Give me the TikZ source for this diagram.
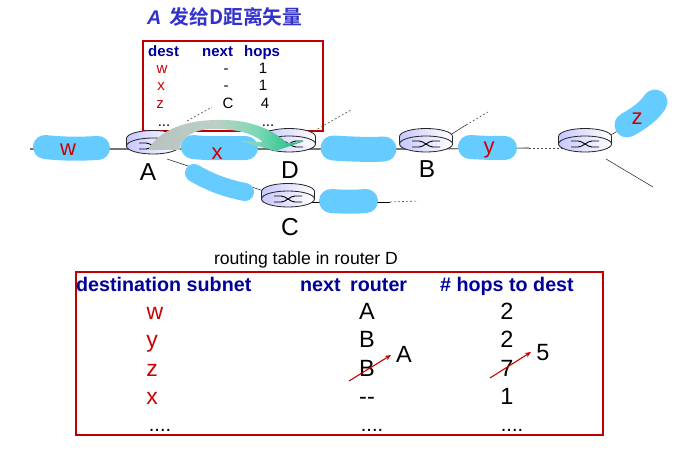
\documentclass[tikz,border=0pt]{standalone}
\usepackage{fontspec}
\setmainfont{Liberation Sans}
\newfontfamily\cjk{Noto Sans CJK SC}[BoldFont={* Bold}]
\usetikzlibrary{arrows.meta}
\definecolor{blobblue}{HTML}{66CCFF}
\definecolor{boxred}{HTML}{C00000}
\definecolor{textred}{HTML}{CC0000}
\definecolor{headblue}{HTML}{000099}
\definecolor{titleblue}{HTML}{3333CC}
\definecolor{shadegray}{HTML}{BAC2BE}
\definecolor{shademid}{HTML}{BBD0C6}
\definecolor{shadelight}{HTML}{7FD8B6}
\definecolor{shadegreen}{HTML}{2CC08C}
\pgfdeclarehorizontalshading{arrowshade}{100bp}{color(0bp)=(shadegray); color(25bp)=(shadegray); color(47bp)=(shademid); color(60bp)=(shadelight); color(72bp)=(shadegreen); color(100bp)=(shadegreen)}
\tikzset{
  routerpic/.pic={
    \path[draw=black!85,line width=.8pt,left color=blue!22,right color=white]
      (-26.5,0) -- (-26.5,7.5) arc[start angle=180,end angle=0,x radius=26.5pt,y radius=8pt] -- (26.5,0) -- cycle;
    \path[draw=black!85,line width=.8pt,left color=blue!22,right color=white]
      (0,0) ellipse[x radius=26.5pt,y radius=8pt];
    \draw[black,line width=.9pt] (-14,3) -- (-7,3) .. controls (-2,3) and (2,-3) .. (7,-3) -- (14,-3);
    \draw[black,line width=.9pt] (-14,-3) -- (-7,-3) .. controls (-2,-3) and (2,3) .. (7,3) -- (14,3);
  },
  blob/.style={draw=blobblue,line cap=round,line join=round,line width=#1},
  link/.style={draw=black!80,line width=.6pt},
  thicklink/.style={draw=black!55,line width=1.1pt},
  dashlink/.style={draw=black!70,line width=.6pt,dash pattern=on 2pt off 2pt},
  redbox/.style={draw=boxred,line width=2pt,inner sep=0pt,rectangle},
  lab/.style={font=\fontsize{24.5}{25}\selectfont,text=black,anchor=base,inner sep=0pt},
  subnet/.style={font=\fontsize{22}{22}\selectfont,text=textred,anchor=base,inner sep=0pt},
  smallhead/.style={font=\fontsize{15}{15}\selectfont\bfseries,text=headblue,anchor=base west,inner sep=0pt},
  smallred/.style={font=\fontsize{15}{15}\selectfont,text=textred,anchor=base,inner sep=0pt},
  smallblk/.style={font=\fontsize{15}{15}\selectfont,text=black,anchor=base,inner sep=0pt},
  bighead/.style={font=\fontsize{19.7}{20}\selectfont\bfseries,text=headblue,anchor=base west,inner sep=0pt},
  bigred/.style={font=\fontsize{23}{23}\selectfont,text=textred,anchor=base,inner sep=0pt},
  bigblk/.style={font=\fontsize{23.5}{24}\selectfont,text=black,anchor=base,inner sep=0pt},
  bigdots/.style={font=\fontsize{20}{20}\selectfont,text=black,anchor=base,inner sep=0pt},
  redarrow/.style={draw=textred,line width=1.1pt,-{Stealth[length=6pt,width=5pt]}},
}
\begin{document}
\begin{tikzpicture}[x=1pt,y=1pt,yscale=-1]
\useasboundingbox (0,0) rectangle (696,465);
% routers' centres
\coordinate (rA) at (153,146);
\coordinate (rD) at (289,144);
\coordinate (rB) at (426,144);
\coordinate (rC) at (288,199);
\coordinate (rE) at (585,144);
% link levels at the router sides
\coordinate (mA) at (153,149);
\coordinate (mD) at (289,149);
\coordinate (mB) at (426,149);
\coordinate (mE) at (585,148);
\coordinate (mC) at (288,202);
% free ends
\coordinate (wEnd) at (30,149);
\coordinate (aOut) at (187,121);
\coordinate (aUp) at (212,107);
\coordinate (dOut) at (307,135);
\coordinate (dUp) at (351,110);
\coordinate (bOut) at (447,137);
\coordinate (bMid) at (466,125);
\coordinate (bUp) at (488,112);
\coordinate (cOut) at (167,159);
\coordinate (eDownS) at (606,159);
\coordinate (eDown) at (653,187);
\coordinate (eUpS) at (609,136);
\coordinate (eUp) at (630,124);
\coordinate (cRight) at (418,201);
\coordinate (ySolid) at (529,148);
\coordinate (cSolid) at (390,202);
% title
\node[anchor=base west,inner sep=0pt,text=titleblue,font=\fontsize{19.8}{20}\selectfont] (title) at (147,25)
  {\bfseries\itshape A\hspace{8pt}\upshape\cjk\bfseries 发给D距离矢量};
% upper table box
\node[redbox,minimum width=180pt,minimum height=90pt] (upperbox) at (233,86) {};
% links
\draw[thicklink] (wEnd) -- (mA);
\draw[thicklink] (mA) -- (mD);
\draw[thicklink] (mD) -- (mB);
\draw[thicklink] (mB) -- (ySolid);
\draw[dashlink] (ySolid) -- (mE);
\draw[link] (cOut) -- (rC);
\draw[link,black,line width=.9pt] (mC) -- (cSolid);
\draw[dashlink] (cSolid) -- (cRight);
\draw[dashlink] (aOut) -- (aUp);
\draw[dashlink] (dOut) -- (dUp);
\draw[link] (bOut) -- (bMid);
\draw[dashlink] (bMid) -- (bUp);
\draw[link] (eDownS) -- (eDown);
\draw[link] (eUpS) -- (eUp);
% blobs
\draw[blob=24pt] (45,147) .. controls (62,149) and (80,149) .. (98,148);
\draw[blob=24pt] (193,147) .. controls (210,149) and (230,148) .. (246,148);
\draw[blob=18pt] (194,173) .. controls (215,185) and (230,189) .. (245,192);
\draw[blob=25pt] (333,148) .. controls (350,149) and (370,150) .. (384,149);
\draw[blob=24pt] (331,201) .. controls (345,202) and (355,202) .. (366,201);
\draw[blob=24pt] (470,147) .. controls (485,148) and (495,148) .. (505,148);
\draw[blob=25pt] (627,125) .. controls (640,118) and (650,110) .. (655,102);
% routers
\path (rA) pic {routerpic};
\path (rD) pic {routerpic};
\path (rB) pic {routerpic};
\path (rC) pic {routerpic};
\path (rE) pic {routerpic};
% upper table text
\node[smallhead] (h1) at (148,57) {dest};
\node[smallhead] (h2) at (202,57) {next};
\node[smallhead] (h3) at (244,57) {hops};
\node[smallred] (t1) at (162,74) {w};
\node[smallblk] (t2) at (226,74) {-};
\node[smallblk] (t3) at (263,74) {1};
\node[smallred] (t4) at (161,91) {x};
\node[smallblk] (t5) at (226,91) {-};
\node[smallblk] (t6) at (263,91) {1};
\node[smallred] (t7) at (160,109) {z};
\node[smallblk] (t8) at (228,109) {C};
\node[smallblk] (t9) at (265,109) {4};
\node[smallblk] (t10) at (164,127) {...};
\node[smallblk] (t11) at (230,127) {...};
\node[smallblk] (t12) at (268,127) {...};
% router labels
\node[subnet] (lw) at (68,156) {w};
\node[subnet] (lx) at (217,160) {x};
\node[subnet] (ly) at (489,154) {y};
\node[subnet] (lz) at (637,125) {z};
\node[lab] (lA) at (148,181) {A};
\node[lab] (lD) at (290,179) {D};
\node[lab] (lB) at (427,178) {B};
\node[lab] (lC) at (290,236) {C};
% gradient arrow
\path[shade,shading=arrowshade]
  (148,150) .. controls (160,128) and (190,120) .. (217,120)
  .. controls (245,119) and (270,127) .. (287,143)
  -- (302,142) -- (275,151) -- (240,141) -- (263,142)
  .. controls (250,131) and (230,129) .. (213,129)
  .. controls (195,129) and (180,137) .. (180,150) -- cycle;
% lower table
\node[anchor=base,inner sep=0pt,font=\fontsize{17.6}{18}\selectfont] (cap) at (306,264) {routing table in router D};
\node[redbox,minimum width=527pt,minimum height=163pt] (lowerbox) at (339.5,353.5) {};
\node[bighead] (H1) at (76,291) {destination subnet};
\node[bighead] (H2) at (300,291) {next};
\node[bighead] (H3) at (350,291) {router};
\node[bighead] (H4) at (440,291) {\# hops to dest};
\node[bigred] (c1) at (155,319) {w};
\node[bigred] (c2) at (152,347) {y};
\node[bigred] (c3) at (152,376) {z};
\node[bigred] (c4) at (152,404) {x};
\node[bigdots] (c5) at (160,431) {....};
\node[bigblk] (d1) at (367,319) {A};
\node[bigblk] (d2) at (367,347) {B};
\node[bigblk] (d3) at (367,376) {B};
\node[bigblk] (d4) at (367,404) {-{}-};
\node[bigdots] (d5) at (372,431) {....};
\node[bigblk] (e1) at (507,319) {2};
\node[bigblk] (e2) at (507,347) {2};
\node[bigblk] (e3) at (507,376) {7};
\node[bigblk] (e4) at (507,404) {1};
\node[bigdots] (e5) at (512,431) {....};
\coordinate (a1s) at (349,381);
\coordinate (a1e) at (391,355);
\node[bigblk] (newA) at (404,362) {A};
\coordinate (a2s) at (490,378);
\coordinate (a2e) at (531,352);
\node[bigblk] (new5) at (543,360) {5};
\draw[redarrow] (a1s) -- (a1e);
\draw[redarrow] (a2s) -- (a2e);
\end{tikzpicture}
\end{document}
